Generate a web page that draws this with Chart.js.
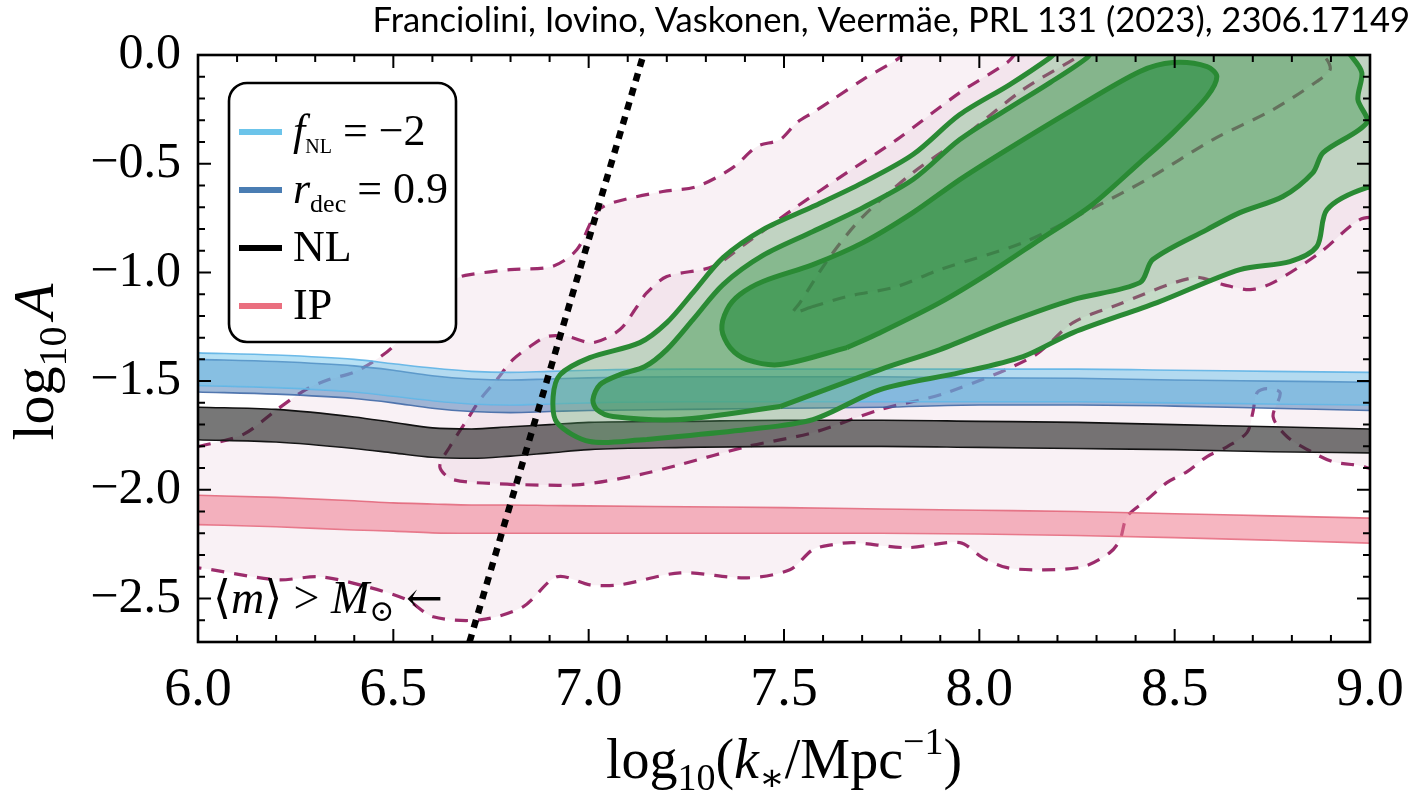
<!DOCTYPE html>
<html>
<head>
<meta charset="utf-8">
<title>log10 A vs log10 k*</title>
<script src="https://cdn.jsdelivr.net/npm/chart.js@4.4.0/dist/chart.umd.min.js"></script>
<style>
  html, body { margin: 0; padding: 0; background: #fff; }
  #wrap { position: relative; width: 1423px; height: 792px; }
</style>
</head>
<body>
<div id="wrap"><canvas id="chart" width="1423" height="792"></canvas></div>
<script>
// Axis ranges and tick labels
const xRange = [6.0, 9.0];
const yRange = [-2.7, 0.0];
const xTickValues = [6.0, 6.5, 7.0, 7.5, 8.0, 8.5, 9.0];
const yTickValues = [-2.5, -2.0, -1.5, -1.0, -0.5, 0.0];

// Model bands, sampled on a common k grid
const bandX    = [6.0, 6.2, 6.4, 6.5, 6.6, 6.7, 6.8, 6.9, 7.0, 7.25, 7.5, 7.75, 8.0, 8.25, 8.5, 8.75, 9.0];
const fnlUpper = [-1.37, -1.38, -1.40, -1.42, -1.44, -1.455, -1.46, -1.455, -1.45, -1.445, -1.445, -1.445, -1.445, -1.445, -1.45, -1.455, -1.46];
const fnlLower = [-1.52, -1.53, -1.55, -1.57, -1.59, -1.605, -1.61, -1.605, -1.60, -1.595, -1.595, -1.595, -1.595, -1.595, -1.60, -1.605, -1.61];
const rdecUpper = [-1.40, -1.41, -1.43, -1.45, -1.475, -1.49, -1.495, -1.49, -1.485, -1.48, -1.48, -1.48, -1.485, -1.487, -1.495, -1.50, -1.505];
const rdecLower = [-1.55, -1.56, -1.58, -1.60, -1.625, -1.64, -1.645, -1.64, -1.635, -1.63, -1.625, -1.62, -1.61, -1.61, -1.615, -1.625, -1.635];
const nlUpper  = [-1.62, -1.63, -1.665, -1.69, -1.715, -1.72, -1.71, -1.70, -1.69, -1.685, -1.68, -1.68, -1.685, -1.69, -1.70, -1.71, -1.72];
const nlLower  = [-1.77, -1.78, -1.81, -1.83, -1.85, -1.855, -1.845, -1.83, -1.815, -1.805, -1.80, -1.80, -1.805, -1.81, -1.815, -1.825, -1.83];
const ipUpper  = [-2.025, -2.035, -2.05, -2.06, -2.065, -2.07, -2.07, -2.072, -2.074, -2.078, -2.082, -2.088, -2.094, -2.10, -2.11, -2.12, -2.13];
const ipLower  = [-2.16, -2.17, -2.185, -2.19, -2.198, -2.20, -2.20, -2.20, -2.20, -2.20, -2.20, -2.20, -2.203, -2.21, -2.22, -2.232, -2.245];

// PTA posterior contours (dashed), closed outlines [log10 k, log10 A]
const ptaOuter = [
  [6.0, -1.802], [6.115, -1.746], [6.202, -1.631], [6.276, -1.539], [6.335, -1.493], [6.397, -1.461],
  [6.448, -1.411], [6.499, -1.341], [6.555, -1.208], [6.619, -1.079], [6.666, -1.024], [6.696, -1.010],
  [6.799, -0.987], [6.906, -0.973], [6.970, -0.895], [7.021, -0.720], [7.062, -0.679], [7.190, -0.628],
  [7.277, -0.605], [7.369, -0.518], [7.431, -0.421], [7.490, -0.389], [7.533, -0.311], [7.574, -0.265],
  [7.625, -0.205], [7.702, -0.113], [7.789, -0.021], [7.85, 0.06], [9.06, 0.06], [9.06, -1.895],
  [8.956, -1.884], [8.905, -1.871], [8.854, -1.829], [8.788, -1.756], [8.752, -1.664], [8.770, -1.553],
  [8.736, -1.535], [8.711, -1.553], [8.700, -1.645], [8.685, -1.737], [8.634, -1.802], [8.583, -1.847],
  [8.532, -1.916], [8.480, -1.967], [8.429, -2.046], [8.378, -2.124], [8.360, -2.230], [8.334, -2.289],
  [8.265, -2.354], [8.155, -2.368], [8.071, -2.358], [8.009, -2.313], [7.950, -2.243], [7.815, -2.266],
  [7.677, -2.243], [7.625, -2.252], [7.574, -2.275], [7.515, -2.368], [7.405, -2.405], [7.234, -2.382],
  [7.080, -2.437], [7.003, -2.437], [6.919, -2.400], [6.832, -2.538], [6.722, -2.598], [6.602, -2.584],
  [6.535, -2.506], [6.433, -2.446], [6.312, -2.400], [6.202, -2.414], [6.0, -2.359], [5.94, -2.36],
  [5.94, -1.80], [6.0, -1.802]
];
const ptaMiddle = [
  [6.806, -1.976], [6.653, -1.953], [6.619, -1.894], [6.645, -1.801], [6.689, -1.677], [6.722, -1.585],
  [6.765, -1.493], [6.806, -1.401], [6.850, -1.341], [6.893, -1.295], [6.945, -1.295], [7.011, -1.323],
  [7.080, -1.263], [7.124, -1.157], [7.149, -1.093], [7.200, -1.019], [7.318, -0.973], [7.405, -0.863],
  [7.533, -0.697], [7.661, -0.541], [7.789, -0.389], [7.950, -0.173], [8.071, -0.035], [8.13, 0.06],
  [9.06, 0.06], [9.06, -0.72], [8.974, -0.757], [8.872, -0.909], [8.752, -1.047], [8.693, -1.079],
  [8.624, -1.056], [8.547, -1.024], [8.342, -1.157], [8.240, -1.231], [8.137, -1.387], [7.917, -1.553],
  [7.746, -1.631], [7.574, -1.737], [7.405, -1.801], [7.234, -1.884], [7.131, -1.930], [6.978, -1.976],
  [6.806, -1.976]
];
const ptaInner = [
  [7.574, -1.157], [7.523, -1.185], [7.541, -1.139], [7.618, -0.927], [7.702, -0.743], [7.830, -0.541],
  [7.950, -0.389], [8.112, -0.159], [8.240, -0.021], [8.31, 0.06], [8.82, 0.06], [8.885, -0.012],
  [8.898, -0.067], [8.864, -0.122], [8.752, -0.251], [8.598, -0.389], [8.429, -0.573], [8.283, -0.711],
  [8.112, -0.863], [7.899, -0.987], [7.789, -1.065], [7.661, -1.111], [7.574, -1.157]
];

// Green contours of the fitted region (outer, middle, inner)
const greenOuter = [
  [7.149, -1.769], [7.003, -1.778], [6.919, -1.691], [6.909, -1.572], [6.927, -1.470], [7.003, -1.392],
  [7.131, -1.323], [7.200, -1.231], [7.267, -1.093], [7.344, -0.932], [7.446, -0.803], [7.574, -0.697],
  [7.702, -0.587], [7.830, -0.458], [7.950, -0.274], [8.078, -0.136], [8.181, -0.012], [8.23, 0.06],
  [9.06, 0.06], [9.06, -0.61], [8.992, -0.610], [8.890, -0.711], [8.864, -0.881], [8.795, -0.950],
  [8.667, -0.987], [8.455, -1.139], [8.240, -1.277], [8.112, -1.387], [7.950, -1.461], [7.746, -1.539],
  [7.574, -1.677], [7.405, -1.723], [7.149, -1.769]
];
const greenMiddle = [
  [7.490, -1.617], [7.234, -1.677], [7.062, -1.663], [7.021, -1.631], [7.011, -1.585], [7.029, -1.516],
  [7.080, -1.470], [7.144, -1.433], [7.200, -1.355], [7.267, -1.217], [7.344, -1.056], [7.446, -0.922],
  [7.574, -0.812], [7.702, -0.702], [7.830, -0.573], [7.950, -0.389], [8.078, -0.242], [8.181, -0.127],
  [8.276, -0.012], [8.31, 0.06], [8.92, 0.06], [8.949, 0.002], [8.979, -0.081], [8.969, -0.205],
  [8.992, -0.311], [8.880, -0.449], [8.854, -0.541], [8.777, -0.651], [8.667, -0.725], [8.583, -0.803],
  [8.444, -0.941], [8.411, -1.047], [8.240, -1.125], [8.071, -1.231], [7.899, -1.355], [7.746, -1.447],
  [7.490, -1.617]
];
const greenInner = [
  [7.661, -1.346], [7.490, -1.424], [7.405, -1.401], [7.362, -1.346], [7.341, -1.263], [7.354, -1.171],
  [7.387, -1.102], [7.446, -1.042], [7.574, -0.964], [7.702, -0.863], [7.830, -0.725], [7.950, -0.573],
  [8.071, -0.435], [8.240, -0.251], [8.411, -0.076], [8.496, -0.035], [8.583, -0.053], [8.608, -0.099],
  [8.583, -0.191], [8.496, -0.357], [8.411, -0.495], [8.283, -0.697], [8.155, -0.849], [8.027, -1.001],
  [7.899, -1.139], [7.746, -1.277], [7.661, -1.346]
];

// <m> = M_sun boundary
const massLineX = [6.695, 7.14];
const massLineY = [-2.7, 0.0];

const SERIF = '"Liberation Serif", "DejaVu Serif", serif';
const serif = (size, italic) => `${italic ? 'italic ' : ''}${size}px ${SERIF}`;

const pairs = list => list.map(([x, y]) => ({ x, y }));
const zip = (xs, ys) => xs.map((x, i) => ({ x, y: ys[i] }));

const contour = (data, fill, border, width, dash) => ({
  data: pairs(data), fill: 'shape', backgroundColor: fill, borderColor: border,
  borderWidth: width, borderDash: dash || [], tension: 0.3, clip: 0
});
const bandEdge = (xs, ys, edge, fillTo, fill) => ({
  data: zip(xs, ys), borderColor: edge, borderWidth: 1.6,
  backgroundColor: fill || 'transparent', fill: fillTo === undefined ? false : fillTo,
  cubicInterpolationMode: 'monotone', clip: 0
});

const PTA_LINE = '#9c2c6c';
const PTA_DASH = [13, 10];
const GREEN = '#2a8a34';

// bottom layer first
const layers = [
  contour(ptaOuter, '#f9f1f5', PTA_LINE, 3.2, PTA_DASH),
  contour(ptaMiddle, '#f3e5ed', PTA_LINE, 3.2, PTA_DASH),
  contour(ptaInner, '#eedae5', PTA_LINE, 3.2, PTA_DASH),
  bandEdge(bandX, ipLower, 'rgba(226,100,120,0.85)'),
  bandEdge(bandX, ipUpper, 'rgba(226,100,120,0.85)', '-1', 'rgba(238,122,142,0.55)'),
  bandEdge(bandX, nlLower, '#111'),
  bandEdge(bandX, nlUpper, '#111', '-1', 'rgba(40,40,40,0.63)'),
  bandEdge(bandX, rdecLower, 'rgba(55,95,160,0.85)'),
  bandEdge(bandX, rdecUpper, 'rgba(55,95,160,0.85)', '-1', 'rgba(70,120,180,0.5)'),
  bandEdge(bandX, fnlLower, 'rgba(95,180,230,0.9)'),
  bandEdge(bandX, fnlUpper, 'rgba(95,180,230,0.9)', '-1', 'rgba(110,195,235,0.5)'),
  contour(greenOuter, 'rgba(90,175,105,0.33)', GREEN, 5),
  contour(greenMiddle, 'rgba(55,150,75,0.42)', GREEN, 5),
  contour(greenInner, 'rgba(35,140,60,0.6)', GREEN, 5),
  {
    data: zip(massLineX, massLineY), borderColor: '#000', borderWidth: 6.5,
    borderDash: [8, 7], fill: false, clip: 0
  }
];
layers.forEach((ds, i) => { ds.order = layers.length - i; ds.pointRadius = 0; });

function drawRich(ctx, parts, x, y, align) {
  const widths = parts.map(p => { ctx.font = p.font; return ctx.measureText(p.text).width; });
  const total = widths.reduce((a, b) => a + b, 0);
  let cx = align === 'center' ? x - total / 2 : (align === 'right' ? x - total : x);
  ctx.textAlign = 'left';
  ctx.textBaseline = 'alphabetic';
  parts.forEach((p, i) => {
    ctx.font = p.font;
    ctx.fillText(p.text, cx, y + (p.dy || 0));
    cx += widths[i];
  });
  return total;
}

// frame with inward ticks on all four sides
const framePlugin = {
  id: 'frame',
  afterDatasetsDraw(chart) {
    const { ctx, chartArea: a, scales: { x, y } } = chart;
    ctx.save();
    ctx.strokeStyle = '#000';
    ctx.lineWidth = 2;
    ctx.beginPath();
    for (let i = 60; i <= 90; i++) {
      const px = x.getPixelForValue(i / 10);
      const len = i % 5 === 0 ? 13 : 7;
      ctx.moveTo(px, a.bottom); ctx.lineTo(px, a.bottom - len);
      ctx.moveTo(px, a.top); ctx.lineTo(px, a.top + len);
    }
    for (let i = -27; i <= 0; i++) {
      const py = y.getPixelForValue(i / 10);
      const len = i % 5 === 0 ? 13 : 7;
      ctx.moveTo(a.left, py); ctx.lineTo(a.left + len, py);
      ctx.moveTo(a.right, py); ctx.lineTo(a.right - len, py);
    }
    ctx.stroke();
    ctx.lineWidth = 2.6;
    ctx.strokeRect(a.left, a.top, a.right - a.left, a.bottom - a.top);
    ctx.restore();
  }
};

// legend, annotation, axis titles and header
const textPlugin = {
  id: 'texts',
  afterDraw(chart) {
    const { ctx, chartArea: a } = chart;
    ctx.save();
    ctx.fillStyle = '#000';

    // legend box
    const lx = a.left + 31, ly = a.top + 28, lw = 227, lh = 259;
    ctx.beginPath();
    ctx.roundRect(lx, ly, lw, lh, 18);
    ctx.fillStyle = '#fff';
    ctx.fill();
    ctx.lineWidth = 2.6;
    ctx.strokeStyle = '#000';
    ctx.stroke();

    const rows = [
      { color: '#6cc4ea', parts: [
        { text: 'f', font: serif(44, true) },
        { text: 'NL', font: serif(20), dy: 8 },
        { text: ' = \u22122', font: serif(44) }] },
      { color: '#4a7db3', parts: [
        { text: 'r', font: serif(44, true) },
        { text: 'dec', font: serif(26), dy: 9 },
        { text: ' = 0.9', font: serif(44) }] },
      { color: '#000000', parts: [{ text: 'NL', font: serif(44) }] },
      { color: '#ea6f7f', parts: [{ text: 'IP', font: serif(44) }] }
    ];
    rows.forEach((r, i) => {
      const ry = ly + 49 + i * 58;
      ctx.strokeStyle = r.color;
      ctx.lineWidth = 6;
      ctx.beginPath();
      ctx.moveTo(lx + 10, ry); ctx.lineTo(lx + 53, ry);
      ctx.stroke();
      ctx.fillStyle = '#000';
      drawRich(ctx, r.parts, lx + 64, ry + 13, 'left');
    });

    // mass boundary note
    drawRich(ctx, [
      { text: '\u27E8', font: serif(46) },
      { text: 'm', font: serif(46, true) },
      { text: '\u27E9 > ', font: serif(46) },
      { text: 'M', font: serif(46, true) },
      { text: '\u2299', font: serif(30), dy: 8 },
      { text: ' ', font: serif(46) },
      { text: '\u2190', font: '44px "DejaVu Serif", serif' }
    ], a.left + 15, 613, 'left');

    // x axis title
    drawRich(ctx, [
      { text: 'log', font: serif(56) },
      { text: '10', font: serif(38), dy: 12 },
      { text: '(', font: serif(56) },
      { text: 'k', font: serif(56, true) },
      { text: '\u2217', font: serif(38), dy: 12 },
      { text: '/Mpc', font: serif(56) },
      { text: '\u22121', font: serif(38), dy: -24 },
      { text: ')', font: serif(56) }
    ], (a.left + a.right) / 2, 778, 'center');

    // y axis title, rotated
    ctx.save();
    ctx.translate(53, 362);
    ctx.rotate(-Math.PI / 2);
    drawRich(ctx, [
      { text: 'log', font: serif(58) },
      { text: '10', font: serif(40), dy: 13 },
      { text: ' ', font: serif(30) },
      { text: 'A', font: serif(58, true) }
    ], 0, 0, 'center');
    ctx.restore();

    // citation header
    const cite = 'Franciolini, Iovino, Vaskonen, Veermäe, PRL 131 (2023), 2306.17149';
    ctx.font = '34px Lato, "Open Sans", sans-serif';
    const w = ctx.measureText(cite).width;
    const size = 34 * 1038 / w;
    ctx.font = `${size}px Lato, "Open Sans", sans-serif`;
    ctx.textAlign = 'right';
    ctx.textBaseline = 'alphabetic';
    ctx.fillText(cite, 1410, 32);
    ctx.restore();
  }
};

const tickFmt = v => (v < 0 ? '\u2212' : '') + Math.abs(v).toFixed(1);

new Chart(document.getElementById('chart'), {
  type: 'line',
  data: { datasets: layers },
  options: {
    responsive: false,
    animation: false,
    events: [],
    layout: { padding: { top: 55, right: 53, left: 0, bottom: 0 } },
    elements: { point: { radius: 0 }, line: { capBezierPoints: false } },
    plugins: {
      legend: { display: false },
      tooltip: { enabled: false },
      filler: { drawTime: 'beforeDatasetDraw' }
    },
    scales: {
      x: {
        type: 'linear', min: xRange[0], max: xRange[1],
        grid: { display: false }, border: { display: false },
        afterBuildTicks: s => { s.ticks = xTickValues.map(v => ({ value: v })); },
        afterFit: s => { s.height = 150; },
        ticks: {
          color: '#000', padding: 8, maxRotation: 0, autoSkip: false,
          font: { family: SERIF, size: 54 },
          callback: v => tickFmt(v)
        }
      },
      y: {
        type: 'linear', min: yRange[0], max: yRange[1],
        grid: { display: false }, border: { display: false },
        afterBuildTicks: s => { s.ticks = yTickValues.map(v => ({ value: v })); },
        afterFit: s => { s.width = 198; },
        ticks: {
          color: '#000', padding: 9, autoSkip: false,
          font: { family: SERIF, size: 50 },
          callback: v => tickFmt(v)
        }
      }
    }
  },
  plugins: [framePlugin, textPlugin]
});
</script>
</body>
</html>
